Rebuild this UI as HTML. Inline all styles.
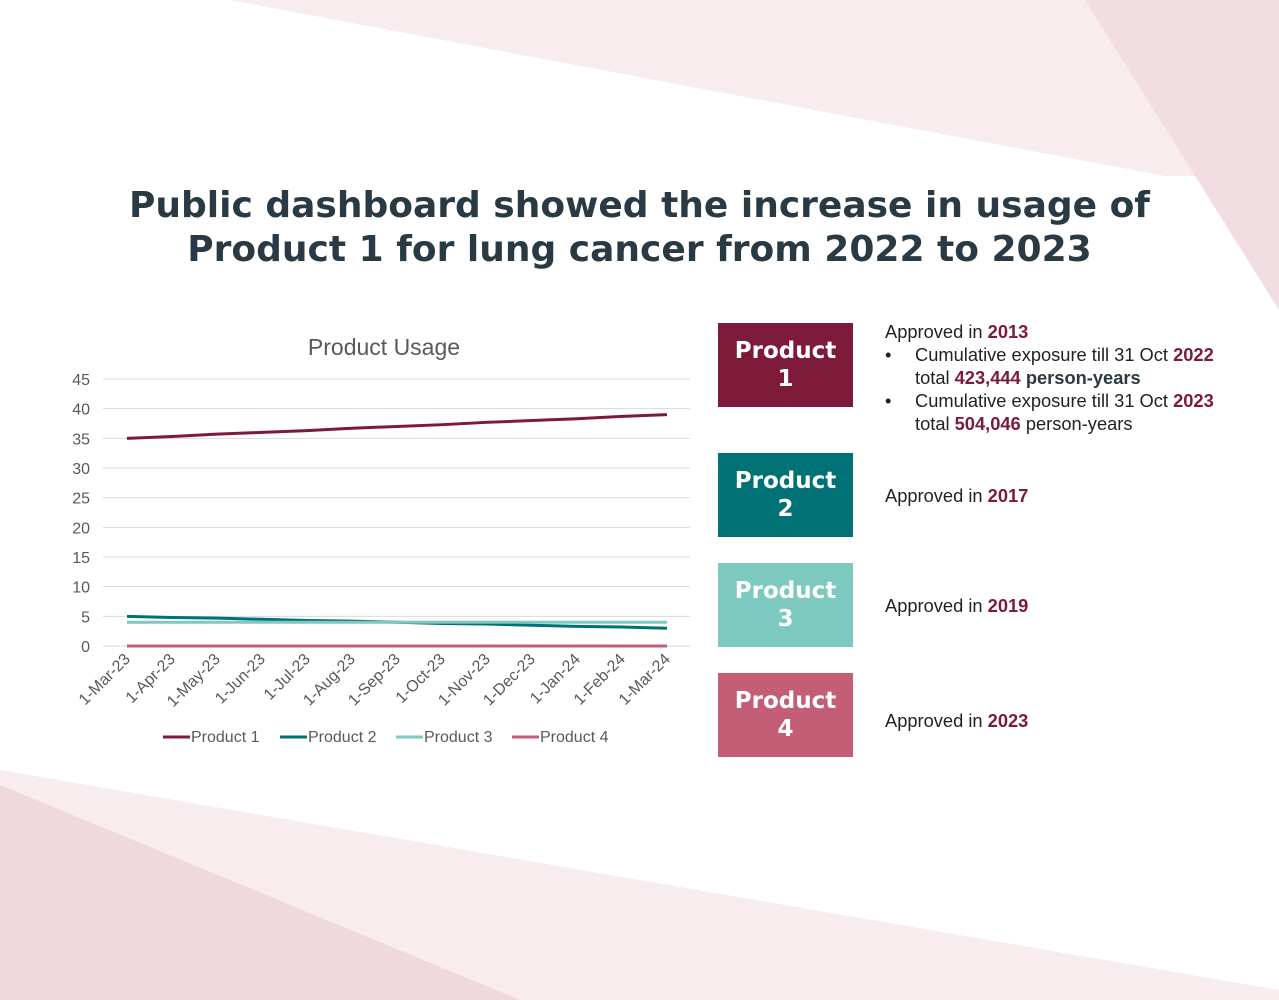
<!DOCTYPE html>
<html><head><meta charset="utf-8"><style>
body{margin:0;width:1279px;height:1000px;position:relative;overflow:hidden;background:#fff;font-family:"Liberation Sans",Arial,sans-serif}
.t{position:absolute}
.box{position:absolute;left:718px;width:135px;height:84px;color:#fff;font-weight:bold;font-size:23px;text-align:center;line-height:28px;display:flex;align-items:center;justify-content:center;font-family:"DejaVu Sans","Liberation Sans",sans-serif}
.info{position:absolute;left:885px;font-size:18.3px;color:#222;line-height:23px}
.r{color:#7d1a3a;font-weight:bold}
</style></head><body>
<svg class="t" style="left:0;top:0" width="1279" height="1000">
<polygon points="230,0 1279,0 1279,176 1165,176" fill="#f8ecef"/>
<polygon points="1085,0 1279,0 1279,310" fill="#f2dde2"/>
<polygon points="0,770 1279,990 1279,1000 0,1000" fill="#f8ecef"/>
<polygon points="0,785 520,1000 0,1000" fill="#efd8de"/>
</svg>
<div class="t" style="left:0;width:1279px;top:184px;text-align:center;font-family:'DejaVu Sans','Liberation Sans',sans-serif;font-weight:bold;font-size:36px;line-height:44px;color:#2a3a44">Public dashboard showed the increase in usage of<br>Product 1 for lung cancer from 2022 to 2023</div>
<svg id="chart" class="t" style="left:0;top:0" width="720" height="760"></svg>
<div class="box" style="top:323px;background:#7d1a3a">Product<br>1</div>
<div class="box" style="top:453px;background:#007175">Product<br>2</div>
<div class="box" style="top:563px;background:#7dc8bf">Product<br>3</div>
<div class="box" style="top:673px;background:#c45d76">Product<br>4</div>
<div class="info" style="top:320px">Approved in <span class="r">2013</span>
<div style="position:relative;padding-left:30px">
<span style="position:absolute;left:0">•</span>Cumulative exposure till 31 Oct <span class="r">2022</span><br>total <span class="r">423,444</span> <b style="color:#2a3a44">person-years</b></div>
<div style="position:relative;padding-left:30px">
<span style="position:absolute;left:0">•</span>Cumulative exposure till 31 Oct <span class="r">2023</span><br>total <span class="r">504,046</span> person-years</div></div>
<div class="info" style="top:484px">Approved in <span class="r">2017</span></div>
<div class="info" style="top:594px">Approved in <span class="r">2019</span></div>
<div class="info" style="top:709px">Approved in <span class="r">2023</span></div>
<script>
const categories=["1-Mar-23","1-Apr-23","1-May-23","1-Jun-23","1-Jul-23","1-Aug-23","1-Sep-23","1-Oct-23","1-Nov-23","1-Dec-23","1-Jan-24","1-Feb-24","1-Mar-24"];
const product1=[35,35.3,35.7,36,36.3,36.7,37,37.3,37.7,38,38.3,38.7,39];
const product2=[5,4.8,4.7,4.5,4.3,4.2,4,3.8,3.7,3.5,3.3,3.2,3];
const product3=[4,4,4,4,4,4,4,4,4,4,4,4,4];
const product4=[0,0,0,0,0,0,0,0,0,0,0,0,0];
const yTicks=[0,5,10,15,20,25,30,35,40,45];
const seriesNames=["Product 1","Product 2","Product 3","Product 4"];
const colors=["#7d1a3a","#007175","#7dc8bf","#c45d76"];
const svg=document.getElementById('chart');const NS="http://www.w3.org/2000/svg";
const X=i=>127+i*(540/(categories.length-1));const Y=v=>646-v*(267/45);
function mk(t,a,txt){const e=document.createElementNS(NS,t);for(const k in a)e.setAttribute(k,a[k]);if(txt!=null)e.textContent=txt;svg.appendChild(e);return e;}
let e=mk('text',{x:384,y:355,'text-anchor':'middle','font-size':23,fill:'#595959','font-family':'Liberation Sans'},'Product Usage');


yTicks.forEach(v=>{
 let g=mk('line',{x1:103,x2:690,y1:Y(v),y2:Y(v),stroke:'#d9d9d9','stroke-width':1});
 
 
 let t=mk('text',{x:90,y:Y(v)+6,'text-anchor':'end','font-size':16,fill:'#595959','font-family':'Liberation Sans'},v);
 
 
});
categories.forEach((c,i)=>{
 let t=mk('text',{x:X(i)+4,y:660,'text-anchor':'end','font-size':16,fill:'#595959','font-family':'Liberation Sans',transform:`rotate(-45 ${X(i)+4} 660)`},c);
 
 
});
[product1,product2,product3,product4].forEach((s,k)=>{
 let p=mk('polyline',{points:s.map((v,i)=>X(i)+','+Y(v)).join(' '),fill:'none',stroke:colors[k],'stroke-width':3,'stroke-linejoin':'round'});
 
 
});
const lx=[163,280,396,512];
seriesNames.forEach((n,k)=>{
 let l=mk('line',{x1:lx[k],x2:lx[k]+27,y1:737,y2:737,stroke:colors[k],'stroke-width':3});
 
 
 let t=mk('text',{x:lx[k]+28,y:742,'font-size':16,fill:'#595959','font-family':'Liberation Sans'},n);
 
 
});
</script>
</body></html>
